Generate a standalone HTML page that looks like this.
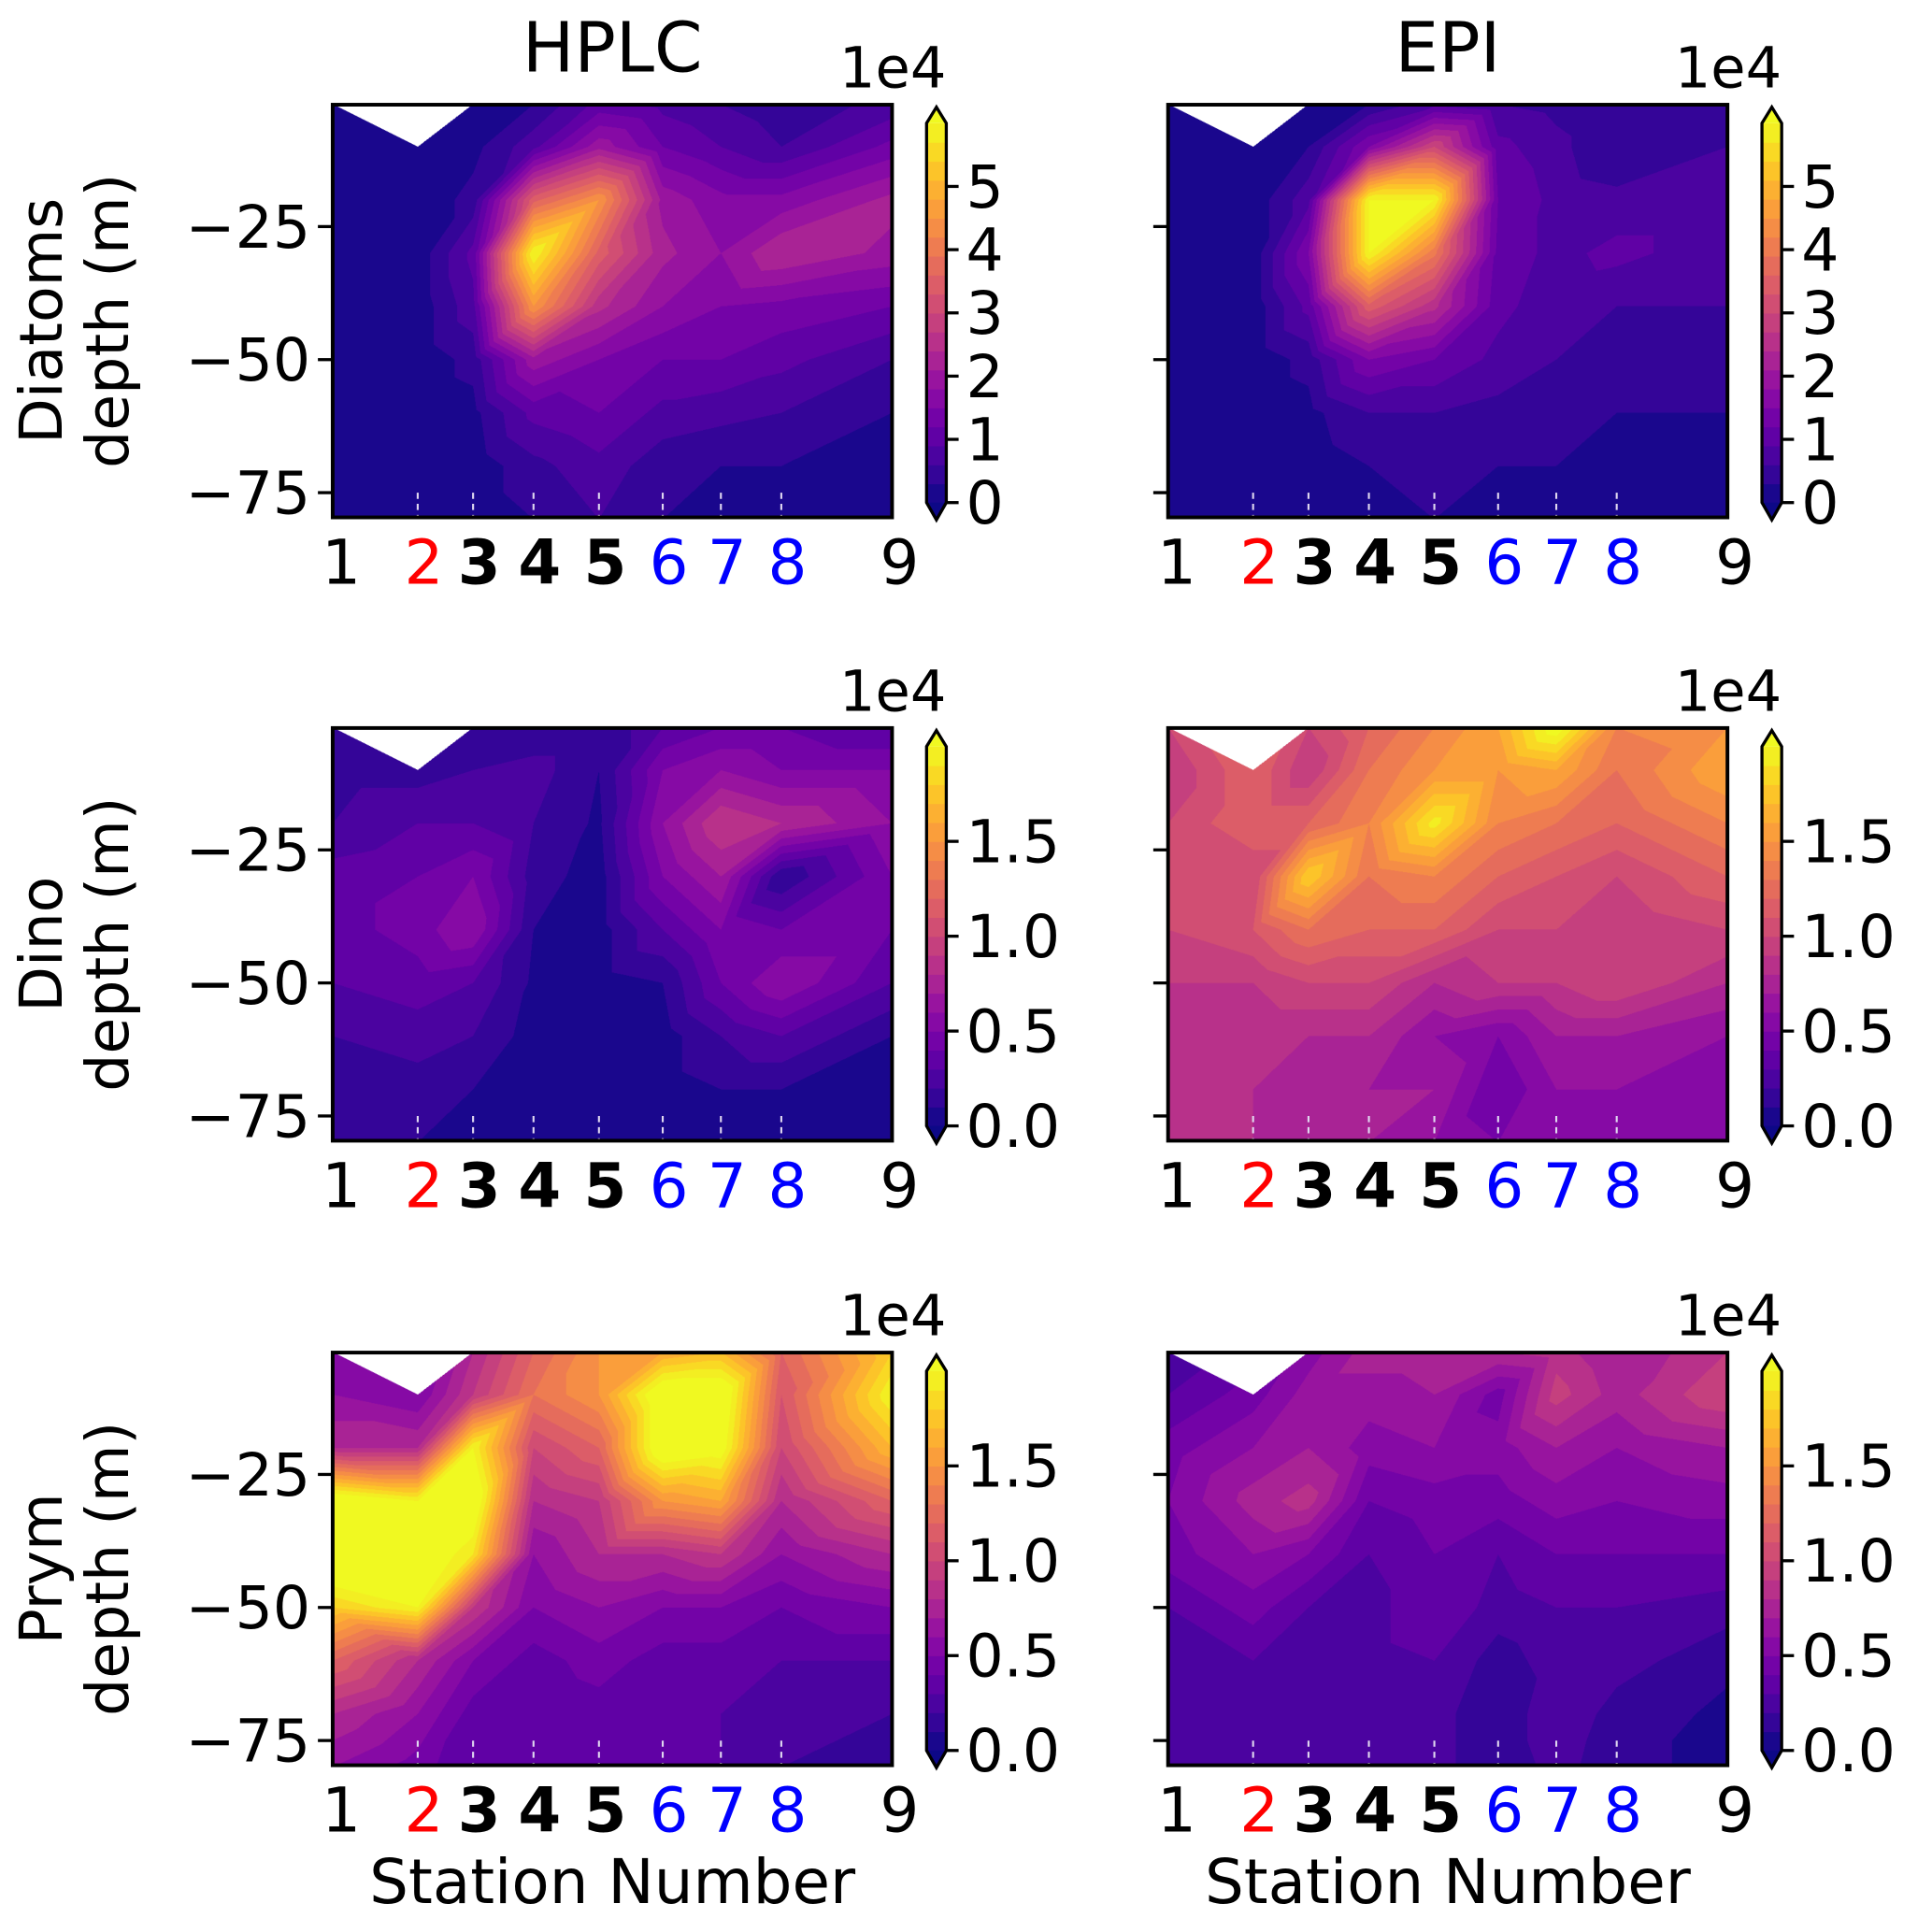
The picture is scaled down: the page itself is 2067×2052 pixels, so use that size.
<!DOCTYPE html>
<html><head><meta charset="utf-8">
<style>
html,body{margin:0;padding:0;background:#fff;overflow:hidden}
#stage{position:absolute;left:0;top:0;width:1568px;height:1557px;transform-origin:0 0;transform:scale(1.31824,1.31792);font-family:"DejaVu Sans","Liberation Sans",sans-serif}
canvas{position:absolute}
</style></head>
<body>
<div id="stage">
<svg id="svg" width="1568" height="1557" style="position:absolute;left:0;top:0"></svg>
</div>
<script>
// ---- data (values in units of 1e4) ----
const stationLabels = ["1","2","3","4","5","6","7","8","9"];
const stationPos = [0, 0.152, 0.251, 0.359, 0.476, 0.590, 0.694, 0.802, 1.0];
const depths = [-2,-10,-20,-30,-40,-50,-60,-70,-80];
const N = null;
// rows = depth, columns = station
const diatomsHPLC = [
 [0.1,N,0.1,0.3,1.0,0.8,0.6,0.4,0.7],
 [0.1,0.1,0.2,0.8,2.0,1.2,0.9,0.6,1.3],
 [0.1,0.1,0.4,3.5,4.5,2.0,1.6,1.6,2.2],
 [0.1,0.1,1.0,6.0,3.5,2.2,1.8,2.4,2.0],
 [0.1,0.1,0.8,4.5,2.5,1.8,1.5,1.4,1.2],
 [0.1,0.1,0.4,2.0,1.5,1.2,1.2,1.0,0.6],
 [0.1,0.1,0.2,1.0,1.2,0.8,0.7,0.6,0.3],
 [0.1,0.1,0.1,0.5,0.8,0.4,0.3,0.3,0.2],
 [0.1,0.1,0.1,0.3,0.6,0.3,0.2,0.2,0.1]];
const diatomsEPI = [
 [0.1,N,0.1,0.3,0.8,0.6,0.5,0.3,0.5],
 [0.1,0.1,0.3,1.5,3.0,1.0,0.7,0.3,0.6],
 [0.1,0.1,0.8,6.0,6.0,1.2,0.8,0.7,0.7],
 [0.1,0.1,1.5,6.0,4.0,1.1,0.8,1.0,0.7],
 [0.1,0.1,1.0,3.5,2.5,1.0,0.7,0.6,0.6],
 [0.1,0.1,0.4,1.5,1.2,0.8,0.6,0.5,0.4],
 [0.1,0.1,0.2,0.6,0.6,0.5,0.4,0.3,0.3],
 [0.1,0.1,0.1,0.3,0.4,0.3,0.3,0.2,0.2],
 [0.1,0.1,0.1,0.2,0.3,0.2,0.2,0.2,0.1]];
const dinoHPLC = [
 [0.1,N,0.1,0.1,0.1,0.3,0.4,0.4,0.3],
 [0.15,0.15,0.2,0.25,0.1,0.5,0.6,0.5,0.5],
 [0.2,0.3,0.3,0.2,0.08,0.6,0.9,0.8,0.6],
 [0.35,0.4,0.5,0.15,0.05,0.5,0.7,0.1,0.5],
 [0.35,0.45,0.6,0.1,0.05,0.3,0.5,0.4,0.4],
 [0.3,0.35,0.3,0.08,0.05,0.1,0.4,0.6,0.3],
 [0.2,0.25,0.2,0.05,0.05,0.05,0.2,0.3,0.1],
 [0.1,0.15,0.1,0.05,0.1,0.05,0.1,0.1,0.05],
 [0.1,0.1,0.05,0.03,0.05,0.05,0.05,0.05,0.03]];
const dinoEPI = [
 [1.0,N,1.0,1.2,1.4,1.6,2.1,1.4,1.5],
 [0.9,1.2,0.9,1.3,1.5,1.5,1.6,1.3,1.6],
 [1.0,1.2,1.2,1.4,1.95,1.4,1.3,1.2,1.4],
 [1.0,1.0,1.8,1.3,1.4,1.2,1.1,1.0,1.2],
 [1.0,1.1,1.3,1.2,1.2,1.0,1.0,0.9,1.0],
 [0.9,0.9,1.0,1.0,0.8,0.9,0.9,1.0,0.8],
 [0.9,0.8,0.8,0.8,0.6,0.5,0.7,0.7,0.6],
 [0.8,0.8,0.7,0.7,0.7,0.4,0.6,0.6,0.5],
 [0.8,0.8,0.8,0.7,0.6,0.5,0.5,0.5,0.5]];
const prymHPLC = [
 [0.5,N,0.8,1.2,1.5,1.6,1.7,1.2,1.8],
 [0.6,0.5,0.9,1.3,1.5,2.2,2.2,1.1,2.0],
 [0.8,0.8,2.0,1.0,1.2,2.2,2.1,1.0,1.7],
 [2.2,2.0,2.2,0.8,0.9,1.5,1.6,0.8,1.2],
 [2.3,2.2,1.9,0.6,0.8,0.8,0.9,0.6,0.8],
 [1.8,2.0,0.9,0.5,0.6,0.5,0.5,0.4,0.5],
 [1.2,0.8,0.5,0.35,0.45,0.35,0.35,0.3,0.3],
 [0.8,0.6,0.35,0.3,0.35,0.3,0.3,0.25,0.2],
 [0.6,0.45,0.3,0.3,0.3,0.3,0.3,0.2,0.1]];
const prymEPI = [
 [0.2,N,0.55,0.75,0.75,0.8,0.85,0.7,0.9],
 [0.3,0.45,0.65,0.65,0.7,0.45,0.95,0.75,1.0],
 [0.45,0.6,0.7,0.55,0.6,0.55,0.7,0.6,0.7],
 [0.5,0.75,0.85,0.4,0.45,0.45,0.55,0.5,0.55],
 [0.45,0.6,0.5,0.3,0.4,0.3,0.4,0.4,0.4],
 [0.3,0.45,0.3,0.25,0.4,0.25,0.3,0.3,0.25],
 [0.25,0.3,0.25,0.25,0.3,0.15,0.25,0.25,0.12],
 [0.25,0.25,0.25,0.25,0.25,0.1,0.3,0.15,0.08],
 [0.25,0.25,0.25,0.25,0.25,0.1,0.25,0.12,0.08]];
const vmaxDiatoms = 6.0;
const vmaxSmall = 2.0;
const cbTicksDiatoms = ["0","1","2","3","4","5"];
const cbTickValsDiatoms = [0,1,2,3,4,5];
const cbTicksSmall = ["0.0","0.5","1.0","1.5"];
const cbTickValsSmall = [0,0.5,1.0,1.5];
const yTickVals = [-25,-50,-75];
const yTickLabels = ["\u221225","\u221250","\u221275"];
const nLevels = 20;

const panels = [
 {name:"diatoms-hplc",data:diatomsHPLC,vmax:vmaxDiatoms,tv:cbTickValsDiatoms,tl:cbTicksDiatoms,col:0,row:0},
 {name:"diatoms-epi",data:diatomsEPI,vmax:vmaxDiatoms,tv:cbTickValsDiatoms,tl:cbTicksDiatoms,col:1,row:0},
 {name:"dino-hplc",data:dinoHPLC,vmax:vmaxSmall,tv:cbTickValsSmall,tl:cbTicksSmall,col:0,row:1},
 {name:"dino-epi",data:dinoEPI,vmax:vmaxSmall,tv:cbTickValsSmall,tl:cbTicksSmall,col:1,row:1},
 {name:"prym-hplc",data:prymHPLC,vmax:vmaxSmall,tv:cbTickValsSmall,tl:cbTicksSmall,col:0,row:2},
 {name:"prym-epi",data:prymEPI,vmax:vmaxSmall,tv:cbTickValsSmall,tl:cbTicksSmall,col:1,row:2}];

// ---- layout ----
const colX0=[270,948], AXW=454, rowY0=[85,591,1098], AXH=335;
const DTOP=-2.1, PXM=4.32;
const plasma=[[13,8,135],[65,4,157],[106,0,168],[143,13,164],[177,42,144],[204,71,120],[225,100,98],[242,132,75],[252,166,54],[252,206,37],[240,249,33]];
function cmap(t){t=Math.max(0,Math.min(1,t));const f=t*10,i=Math.min(9,Math.floor(f)),r=f-i;const a=plasma[i],b=plasma[i+1];return [a[0]+(b[0]-a[0])*r,a[1]+(b[1]-a[1])*r,a[2]+(b[2]-a[2])*r].map(Math.round);}
function levelColor(v,vmax){ if(v>=vmax) return cmap(1); if(v<0) return cmap(0); const k=Math.floor(v/vmax*nLevels); return cmap((k+0.5)/nLevels);}
const rgb=c=>`rgb(${c[0]},${c[1]},${c[2]})`;
const xScale=(x0,f)=>x0+f*AXW;
const yScale=(y0,d)=>y0+(DTOP-d)*PXM;

function interp(data,f,d){
  let i=0; while(i<stationPos.length-2 && f>stationPos[i+1]) i++;
  let j=0; while(j<depths.length-2 && d<depths[j+1]) j++;
  let u=(f-stationPos[i])/(stationPos[i+1]-stationPos[i]);
  let v=(depths[j]-d)/(depths[j]-depths[j+1]);
  u=Math.max(0,Math.min(1,u)); v=Math.max(0,Math.min(1,v));
  const TL=data[j][i],TR=data[j][i+1],BL=data[j+1][i],BR=data[j+1][i+1];
  if(i===0){
    if(u>=v){ if(TL==null||TR==null||BR==null) return null; return TL+u*(TR-TL)+v*(BR-TR);}
    if(TL==null||BL==null||BR==null) return null; return TL+v*(BL-TL)+u*(BR-BL);
  } else {
    if(u+v<=1){ if(TL==null||TR==null||BL==null) return null; return TL+u*(TR-TL)+v*(BL-TL);}
    if(TR==null||BL==null||BR==null) return null; return BR+(1-u)*(BL-BR)+(1-v)*(TR-BR);
  }
}

const stage=document.getElementById('stage');
const svg=document.getElementById('svg');
const NS="http://www.w3.org/2000/svg";
function sv(tag,attrs,name,parent){const e=document.createElementNS(NS,tag);for(const k in attrs)e.setAttribute(k,attrs[k]);
  
  
  (parent||svg).appendChild(e);return e;}
function txt(s,x,y,size,anchor,name,extra){const e=sv('text',Object.assign({x:x,y:y,'font-size':size,'text-anchor':anchor||'start','font-family':'DejaVu Sans, Liberation Sans, sans-serif',fill:'#000'},extra||{}),name);e.textContent=s;return e;}

const SC=2;
const stColors=["#000","#ff0000","#000","#000","#000","#0000ff","#0000ff","#0000ff","#000"];
const stBold=[0,0,1,1,1,0,0,0,0];
panels.forEach(p=>{
  const x0=colX0[p.col], y0=rowY0[p.row];
  const cv=document.createElement('canvas');
  
  
  cv.width=AXW*SC; cv.height=AXH*SC;
  cv.style.left=x0+'px'; cv.style.top=y0+'px'; cv.style.width=AXW+'px'; cv.style.height=AXH+'px';
  stage.insertBefore(cv,svg);
  const ctx=cv.getContext('2d'); const img=ctx.createImageData(cv.width,cv.height);
  for(let py=0;py<cv.height;py++){
    const d=DTOP-(py+0.5)/SC/PXM;
    for(let px=0;px<cv.width;px++){
      const f=(px+0.5)/SC/AXW;
      const v=interp(p.data,f,d); const o=(py*cv.width+px)*4;
      if(v==null){img.data[o]=255;img.data[o+1]=255;img.data[o+2]=255;img.data[o+3]=255;continue;}
      const c=levelColor(v,p.vmax);
      img.data[o]=c[0];img.data[o+1]=c[1];img.data[o+2]=c[2];img.data[o+3]=255;
    }
  }
  ctx.putImageData(img,0,0);
  for(let k=1;k<8;k++){const x=xScale(x0,stationPos[k]);
    sv('line',{x1:x,x2:x,y1:y0+AXH-20,y2:y0+AXH,stroke:'#e0d8f0','stroke-width':1.6,'stroke-dasharray':'5,4'},'station-tick');}
  sv('rect',{x:x0,y:y0,width:AXW,height:AXH,fill:'none',stroke:'#000','stroke-width':3},p.name+'-axes-frame');
  yTickVals.forEach((d,k)=>{const y=yScale(y0,d);
    sv('line',{x1:x0-12,x2:x0,y1:y,y2:y,stroke:'#000','stroke-width':2.5},'y-tick');
    if(p.col===0) txt(yTickLabels[k],x0-18,y+17,48,'end','y-tick-label');});
  stationLabels.forEach((s,k)=>{let x=xScale(x0,stationPos[k])+5; if(k===0)x+=2; if(k===8)x+=1;
    txt(s,x,y0+AXH+54,50,'middle','station-label',{fill:stColors[k],'font-weight':stBold[k]?'bold':'normal'});});
  const cx=x0+AXW+28, cw=16, cb0=y0+15, cb1=y0+323, ch=cb1-cb0;
  const cbY=v=>cb1-v/p.vmax*ch;
  for(let k=0;k<nLevels;k++){const v0=k*p.vmax/nLevels,v1=(k+1)*p.vmax/nLevels;
    sv('rect',{x:cx,y:cbY(v1),width:cw,height:cbY(v0)-cbY(v1)+0.5,fill:rgb(cmap((k+0.5)/nLevels))},'colorbar-band');}
  sv('polygon',{points:`${cx},${cb0} ${cx+cw/2},${y0+2} ${cx+cw},${cb0}`,fill:rgb(cmap(1))},'colorbar-extend-max');
  sv('polygon',{points:`${cx},${cb1} ${cx+cw/2},${y0+337} ${cx+cw},${cb1}`,fill:rgb(cmap(0))},'colorbar-extend-min');
  sv('polygon',{points:`${cx},${cb0} ${cx+cw/2},${y0+2} ${cx+cw},${cb0} ${cx+cw},${cb1} ${cx+cw/2},${y0+337} ${cx},${cb1}`,fill:'none',stroke:'#000','stroke-width':2.5},'colorbar-outline');
  p.tv.forEach((v,k)=>{const y=cbY(v);
    sv('line',{x1:cx+cw,x2:cx+cw+10,y1:y,y2:y,stroke:'#000','stroke-width':2.5},'colorbar-tick');
    txt(p.tl[k],cx+cw+16,y+17,48,'start','colorbar-tick-label');});
  txt('1e4',x0+AXW+44,y0-14,46,'end','colorbar-offset-label');
});
txt('HPLC',497,58,56,'middle','column-title-hplc');
txt('EPI',1175,58,56,'middle','column-title-epi');
const rowNames=['Diatoms','Dino','Prym'];
rowNames.forEach((n,r)=>{const cy=rowY0[r]+AXH/2+8;
  txt(n,50,cy,48,'middle','row-label',{transform:`rotate(-90 50 ${cy})`});
  txt('depth (m)',104,cy,48,'middle','y-axis-title',{transform:`rotate(-90 104 ${cy})`});});
txt('Station Number',497,1545,50,'middle','x-axis-title');
txt('Station Number',1175,1545,50,'middle','x-axis-title');
</script>
</body></html>
